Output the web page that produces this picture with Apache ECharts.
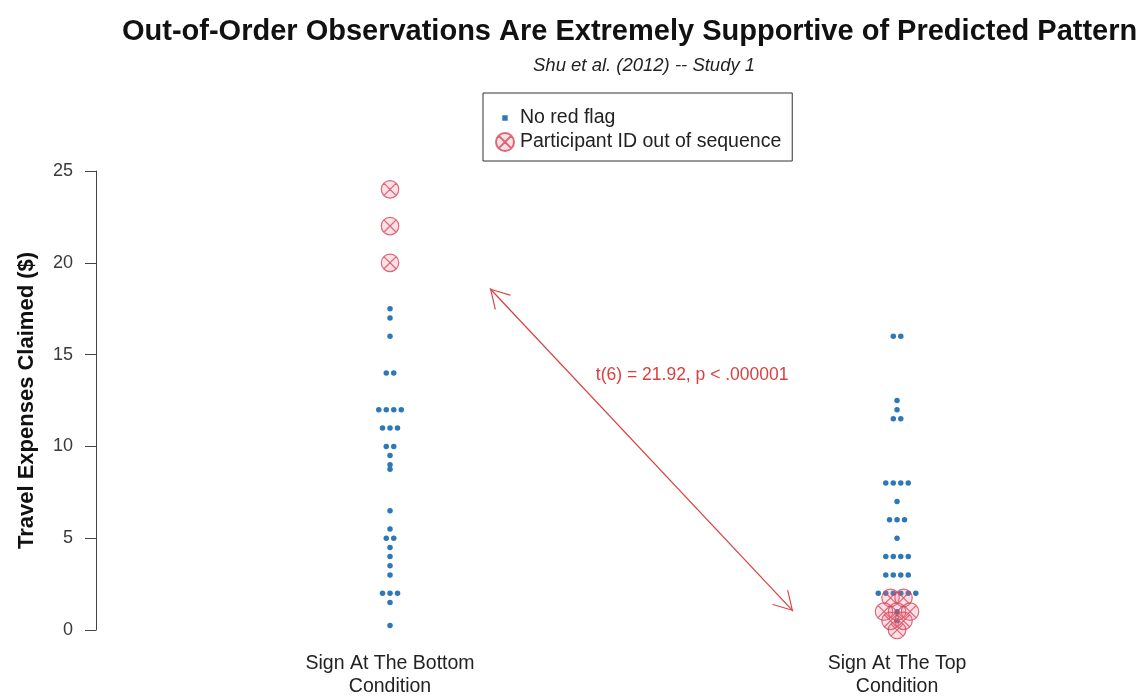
<!DOCTYPE html>
<html>
<head>
<meta charset="utf-8">
<script src="https://cdn.jsdelivr.net/npm/echarts@6/dist/echarts.min.js"></script>
<style>html,body{margin:0;padding:0;background:#fff;}#c{width:1147px;height:698px;}</style>
</head>
<body>
<div id="c"></div>
<script>
// ---- data ----
const categories = ['Sign At The Bottom\nCondition', 'Sign At The Top\nCondition'];
const seriesNames = ['No red flag', 'Participant ID out of sequence'];
const bottomNoFlag = [17.5, 17, 16, 14, 14, 12, 12, 12, 12, 11, 11, 11, 10, 10, 9.5, 9, 8.75, 6.5, 5.5, 5, 5, 4.5, 4, 3.5, 3, 2, 2, 2, 1.5, 0.25];
const bottomOutOfSeq = [24, 22, 20];
const topNoFlag = [16, 16, 12.5, 12, 11.5, 11.5, 8, 8, 8, 8, 7, 6, 6, 6, 5, 4, 4, 4, 4, 3, 3, 3, 3, 2, 2, 2, 2, 2, 2, 1, 0.5];
const topOutOfSeq = [1.75, 1.75, 1, 1, 1, 0.5, 0.5, 0];
const yTicks = [0, 5, 10, 15, 20, 25];
const annotationText = 't(6) = 21.92, p < .000001';
const annotationAt = [1.596, 13.9];
const arrowFrom = [1.197, 18.6];
const arrowTo = [1.795, 1.03];
const titleText = 'Out-of-Order Observations Are Extremely Supportive of Predicted Pattern';
const subtitleText = 'Shu et al. (2012) -- Study 1';
const yAxisTitle = 'Travel Expenses Claimed ($)';

// ---- helpers: spread equal values side by side (swarm layout) ----
function swarm(values, xCenter, spacing) {
  const counts = {}, seen = {};
  values.forEach(v => { counts[v] = (counts[v] || 0) + 1; });
  return values.map(v => {
    const i = seen[v] || 0; seen[v] = i + 1;
    const off = (i - (counts[v] - 1) / 2) * spacing;
    return [xCenter + off, v];
  });
}
const pxPerUnit = 507;
const dotGap = 7.5 / pxPerUnit;
const ringGap = 13 / pxPerUnit;

const noFlagData = swarm(bottomNoFlag, 1, dotGap).concat(swarm(topNoFlag, 2, dotGap));
const outSeqData = swarm(bottomOutOfSeq, 1, ringGap).concat(swarm(topOutOfSeq, 2, ringGap));

const ringSymbol = 'path://M0,10A10,10 0 1,1 20,10A10,10 0 1,1 0,10Z M3.2,3.2L16.8,16.8 M16.8,3.2L3.2,16.8';
const dotIcon = 'path://M0,0L0.01,0L0,0.01Z M7,7L13,7L13,13L7,13Z M19.99,20L20,20L20,19.99Z';
// open V head whose tip sits at the centre of the symbol box
const vHead = 'path://M10.99,0L11,0L11,0.01Z M11,19L22,38L20.7,38L11,21.2L1.3,38L0,38Z';

const chart = echarts.init(document.getElementById('c'));
chart.setOption({
  animation: false,
  backgroundColor: '#fff',
  textStyle: { fontFamily: 'Liberation Sans, Arial, sans-serif' },
  title: [
    { text: titleText, left: 117, top: 12,
      textStyle: { fontSize: 29, fontWeight: 'bold', color: '#111', fontFamily: 'Liberation Sans' } },
    { text: subtitleText, left: 528, top: 51,
      textStyle: { fontSize: 18.5, fontStyle: 'italic', fontWeight: 'normal', color: '#222', fontFamily: 'Liberation Sans' } }
  ],
  legend: {
    orient: 'vertical', left: 483, top: 93,
    padding: [15, 11, 9, 12], itemGap: 4,
    itemWidth: 20, itemHeight: 18,
    borderColor: '#333', borderWidth: 1, borderRadius: 0,
    textStyle: { fontSize: 19.5, color: '#222', fontFamily: 'Liberation Sans' },
    data: [ { name: seriesNames[0], icon: dotIcon }, { name: seriesNames[1] } ]
  },
  grid: { left: 96, right: 17, top: 171, bottom: 65, containLabel: false },
  xAxis: {
    type: 'value', min: 0.4201, max: 2.4595,
    axisLine: { show: false }, axisTick: { show: false }, splitLine: { show: false },
    axisLabel: {
      customValues: [1, 2],
      formatter: v => categories[Math.round(v) - 1],
      fontSize: 19.5, lineHeight: 23, color: '#222', margin: 22, showMinLabel: true, showMaxLabel: true
    }
  },
  yAxis: {
    type: 'value', min: yTicks[0], max: yTicks[yTicks.length - 1], interval: 5,
    name: yAxisTitle, nameLocation: 'middle', nameGap: 58, nameRotate: 90,
    nameTextStyle: { fontSize: 22, fontWeight: 'bold', color: '#111', fontFamily: 'Liberation Sans' },
    axisLine: { show: true, lineStyle: { color: '#444', width: 1 } },
    axisTick: { show: true, length: 11, lineStyle: { color: '#444' } },
    axisLabel: { fontSize: 18, color: '#3a3a3a', margin: 23 },
    splitLine: { show: false }
  },
  series: [
    {
      name: seriesNames[0], type: 'scatter', data: noFlagData,
      symbol: 'circle', symbolSize: 5.5,
      itemStyle: { color: '#2e78b8', opacity: 1 },
      z: 3,
      markLine: {
        silent: true, animation: false,
        symbol: [vHead, vHead], symbolSize: [22, 38],
        lineStyle: { color: '#d9403f', width: 1.2, type: 'solid' },
        label: { show: false },
        data: [[ { coord: arrowFrom }, { coord: arrowTo } ]]
      },
      markPoint: {
        silent: true, animation: false,
        symbol: 'circle', symbolSize: 1,
        itemStyle: { color: 'rgba(0,0,0,0)' },
        label: { show: true, position: 'inside', formatter: annotationText, color: '#d9403f', fontSize: 17.5, fontFamily: 'Liberation Sans' },
        data: [ { coord: annotationAt } ]
      }
    },
    {
      name: seriesNames[1], type: 'scatter', data: outSeqData,
      symbol: ringSymbol, symbolSize: 17.5,
      itemStyle: { color: 'rgba(235,120,140,0.28)', borderColor: '#d4455a', borderWidth: 1.2 },
      z: 4
    }
  ]
});
</script>
</body>
</html>
